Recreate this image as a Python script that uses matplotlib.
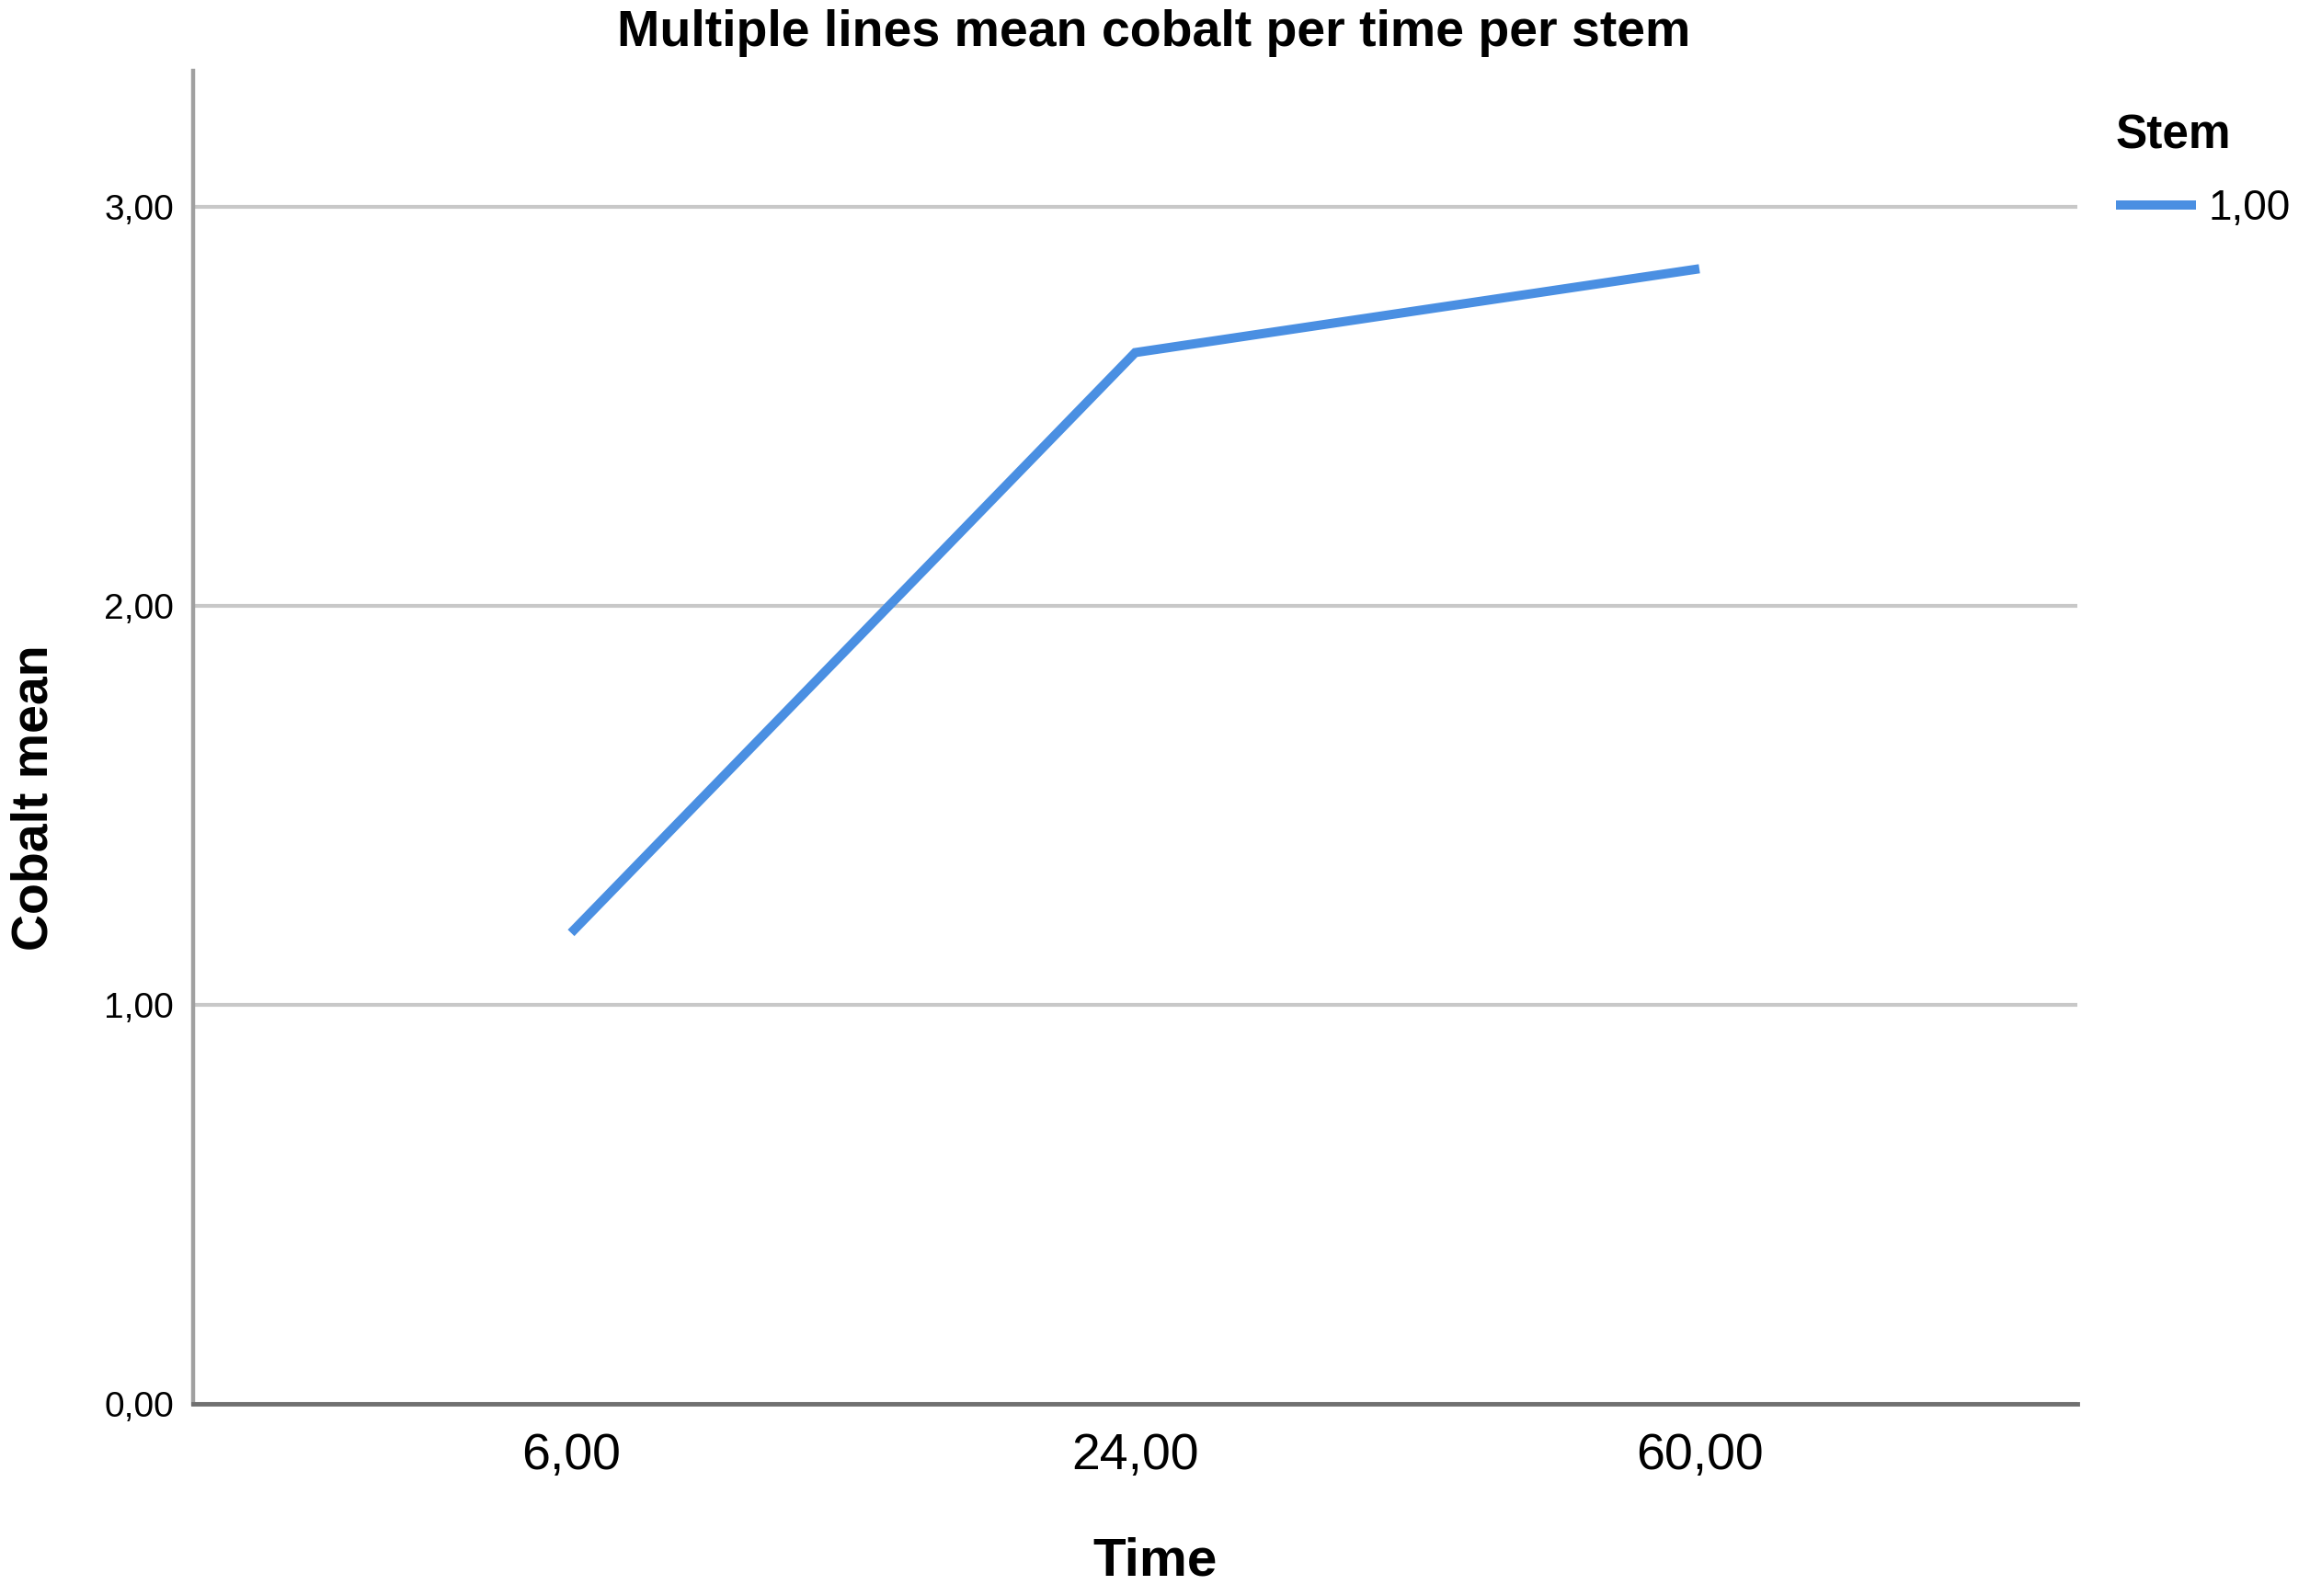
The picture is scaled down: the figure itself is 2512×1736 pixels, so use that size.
import matplotlib
matplotlib.use("Agg")
import matplotlib.pyplot as plt

# Data
time_labels = ["6,00", "24,00", "60,00"]
cobalt_mean = [1.18, 2.634, 2.844]
stem_label = "1,00"
y_ticks = [0, 1, 2, 3]
y_tick_labels = ["0,00", "1,00", "2,00", "3,00"]

W, H = 2512, 1736
fig = plt.figure(figsize=(W / 100, H / 100), dpi=100)
plt.rcParams['font.family'] = ['Liberation Sans', 'DejaVu Sans']

left, right, bottom, top = 210, 2259, 1527, 77
ax = fig.add_axes([left / W, 1 - bottom / H, (right - left) / W, (bottom - top) / H])

xs = list(range(len(time_labels)))
line, = ax.plot(xs, cobalt_mean, color='#4a8fe2', lw=7.2, solid_capstyle='butt',
                solid_joinstyle='miter', zorder=3)

ax.set_xlim(-0.67, 2.67)
ax.set_ylim(0, 3.34)
ax.set_yticks(y_ticks)
ax.set_yticklabels(y_tick_labels)
ax.set_xticks(xs)
ax.set_xticklabels(time_labels)
ax.tick_params(axis='y', length=0, pad=15, labelsize=28)
ax.tick_params(axis='x', length=0, pad=22, labelsize=40)

ax.grid(axis='y', color='#c8c8c8', lw=3, zorder=1)
ax.set_axisbelow(True)
for s in ['top', 'right']:
    ax.spines[s].set_visible(False)
ax.spines['left'].set_color('#a0a0a0')
ax.spines['left'].set_linewidth(3.2)
ax.spines['bottom'].set_color('#707070')
ax.spines['bottom'].set_linewidth(3.5)

fig.text(1255 / W, 1 - 36 / H, "Multiple lines mean cobalt per time per stem",
         ha='center', va='center', fontsize=40, fontweight='bold')
fig.text(1256 / W, 1 - 1699 / H, "Time", ha='center', va='center',
         fontsize=42, fontweight='bold')
fig.text(38 / W, 1 - 868 / H, "Cobalt mean", ha='center', va='center',
         rotation=90, fontsize=40, fontweight='bold')

leg = ax.legend([line], [stem_label], title="Stem", loc='upper left',
                bbox_to_anchor=(2301 / W, 1 - 123 / H), bbox_transform=fig.transFigure,
                frameon=False, fontsize=33, title_fontproperties={'size': 37, 'weight': 'bold'},
                handlelength=1.9, handletextpad=0.3, alignment='left',
                borderaxespad=0, borderpad=0, labelspacing=0.72)
leg.get_lines()[0].set_linewidth(7.2)

fig.savefig("out.png", dpi=100)
